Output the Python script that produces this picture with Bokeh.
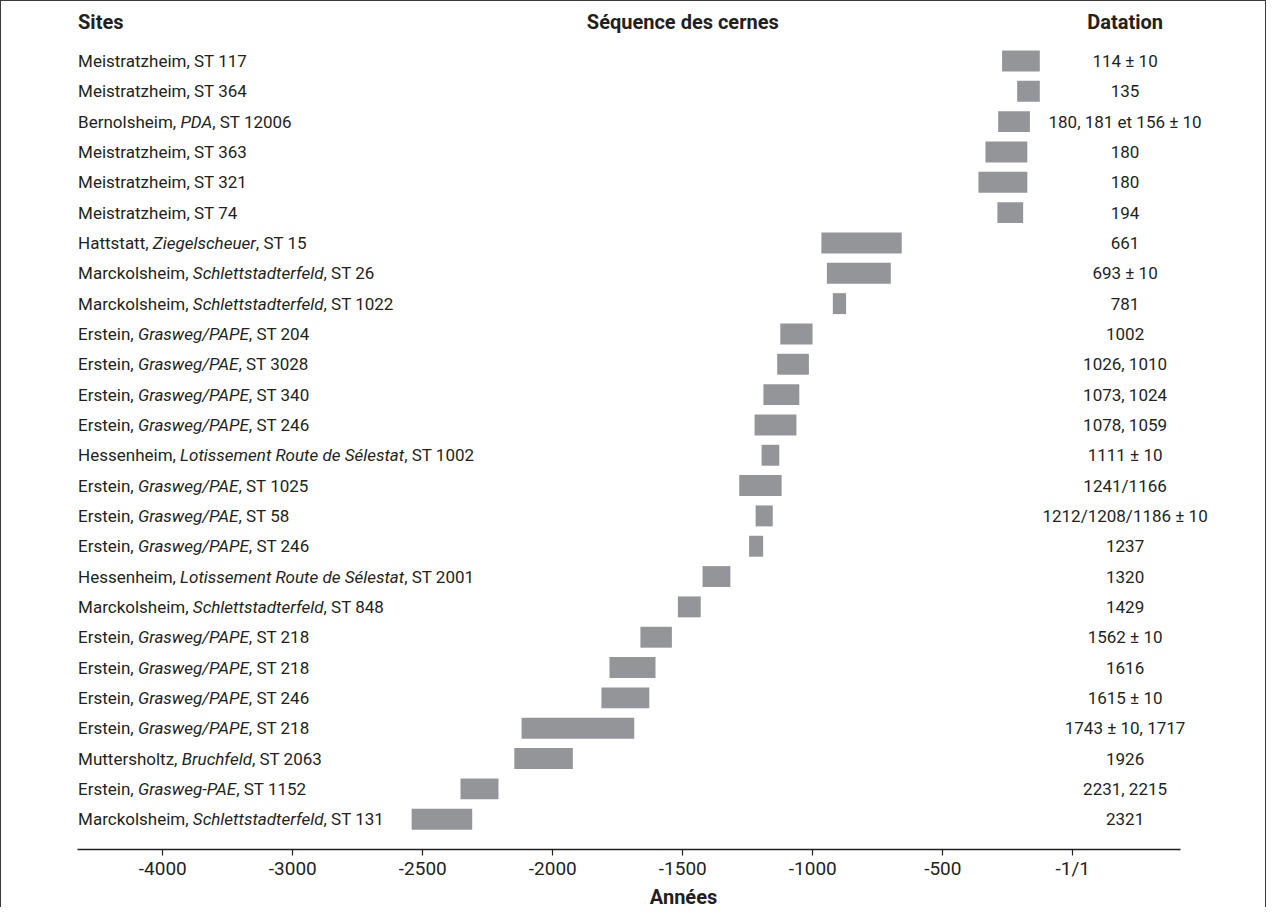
import os
import subprocess

from bokeh.plotting import figure
from bokeh.models import ColumnDataSource, Range1d, LinearAxis, FixedTicker, Title
from bokeh.core.properties import value
from bokeh.embed import file_html
from bokeh.resources import INLINE

# ---------------- data ----------------
site_place = [
    "Meistratzheim", "Meistratzheim", "Bernolsheim", "Meistratzheim", "Meistratzheim",
    "Meistratzheim", "Hattstatt", "Marckolsheim", "Marckolsheim", "Erstein",
    "Erstein", "Erstein", "Erstein", "Hessenheim", "Erstein",
    "Erstein", "Erstein", "Hessenheim", "Marckolsheim", "Erstein",
    "Erstein", "Erstein", "Erstein", "Muttersholtz", "Erstein",
    "Marckolsheim",
]
site_locality = [
    "", "", "PDA", "", "",
    "", "Ziegelscheuer", "Schlettstadterfeld", "Schlettstadterfeld", "Grasweg/PAPE",
    "Grasweg/PAE", "Grasweg/PAPE", "Grasweg/PAPE", "Lotissement Route de Sélestat", "Grasweg/PAE",
    "Grasweg/PAE", "Grasweg/PAPE", "Lotissement Route de Sélestat", "Schlettstadterfeld", "Grasweg/PAPE",
    "Grasweg/PAPE", "Grasweg/PAPE", "Grasweg/PAPE", "Bruchfeld", "Grasweg-PAE",
    "Schlettstadterfeld",
]
site_feature = [
    "ST 117", "ST 364", "ST 12006", "ST 363", "ST 321",
    "ST 74", "ST 15", "ST 26", "ST 1022", "ST 204",
    "ST 3028", "ST 340", "ST 246", "ST 1002", "ST 1025",
    "ST 58", "ST 246", "ST 2001", "ST 848", "ST 218",
    "ST 218", "ST 246", "ST 218", "ST 2063", "ST 1152",
    "ST 131",
]
# ring sequence extent (years, read on the axis)
ring_start = [
    -272, -214, -287, -336, -363,
    -290, -967, -946, -923, -1125,
    -1137, -1190, -1224, -1197, -1283,
    -1220, -1245, -1424, -1519, -1663,
    -1782, -1813, -2120, -2148, -2355,
    -2543,
]
ring_end = [
    -127, -127, -165, -175, -175,
    -191, -658, -700, -872, -1001,
    -1015, -1052, -1063, -1129, -1120,
    -1154, -1191, -1317, -1431, -1542,
    -1605, -1629, -1687, -1923, -2209,
    -2310,
]
datation = [
    "114 ± 10", "135", "180, 181 et 156 ± 10", "180", "180",
    "194", "661", "693 ± 10", "781", "1002",
    "1026, 1010", "1073, 1024", "1078, 1059", "1111 ± 10", "1241/1166",
    "1212/1208/1186 ± 10", "1237", "1320", "1429", "1562 ± 10",
    "1616", "1615 ± 10", "1743 ± 10, 1717", "1926", "2231, 2215",
    "2321",
]
tick_values = [-3500, -3000, -2500, -2000, -1500, -1000, -500, 0]
tick_labels = ["-4000", "-3000", "-2500", "-2000", "-1500", "-1000", "-500", "-1/1"]

headers = ["Sites", "Séquence des cernes", "Datation"]
x_title = "Années"

# ---------------- styling ----------------
FONT = "Roboto"
FS = 17
TXT = "#231f20"
BAR = "#939598"
XR = (-4120.4, 748.8)
W = 1266


def font_file(pattern, must):
    try:
        out = subprocess.run(["fc-match", "-f", "%{file}", pattern],
                             capture_output=True, text=True, timeout=10).stdout.strip()
        if out and os.path.exists(out) and must.lower() in os.path.basename(out).lower():
            return out
    except Exception:
        pass
    return None


def make_measure(pattern, must, size):
    path = font_file(pattern, must)
    try:
        from PIL import ImageFont
        if path:
            f = ImageFont.truetype(path, 100)
            return lambda s: f.getlength(s) * size / 100.0
    except Exception:
        pass
    return lambda s: len(s) * 0.55 * size


w_reg = make_measure("Roboto:style=Regular", "roboto", FS)
w_it = make_measure("Roboto:style=Italic", "italic", FS)
w_bold = make_measure("Roboto:style=Bold", "bold", 20)

n = len(site_place)
ys = [-i for i in range(n)]
p1, p2, p3, o2, o3 = [], [], [], [], []
for pl, loc, ft in zip(site_place, site_locality, site_feature):
    if loc:
        p1.append(pl + ",")
        p2.append(loc)
        p3.append(", " + ft)
        a = w_reg(pl + ", ")
        o2.append(a)
        o3.append(a + w_it(loc))
    else:
        p1.append(pl + ", " + ft)
        p2.append("")
        p3.append("")
        o2.append(0)
        o3.append(0)

src = ColumnDataSource(dict(y=ys, left=ring_start, right=ring_end, dat=datation,
                            p1=p1, p2=p2, p3=p3, o2=o2, o3=o3))

p = figure(width=W, height=907, output_backend="svg", toolbar_location=None,
           x_axis_type=None, y_axis_type=None,
           x_range=Range1d(*XR), y_range=Range1d(-26.0, 1.962),
           min_border_left=0, min_border_right=0, min_border_top=0, min_border_bottom=59)
p.outline_line_color = None
p.grid.visible = False
p.background_fill_color = "white"
p.border_fill_color = "white"
p.styles = {"border-left": "1px solid #3a3a3a", "border-top": "1px solid #3a3a3a",
            "border-right": "1px solid #3a3a3a"}

p.hbar(y="y", left="left", right="right", height=0.69, source=src,
       fill_color=BAR, line_color=None)

LX = -3826
common = dict(text_font=value(FONT), text_font_size=f"{FS}px", text_color=TXT,
              text_baseline="middle")
p.text(x=LX, y="y", text="p1", source=src, text_align="left", **common)
p.text(x=LX, y="y", text="p2", x_offset="o2", source=src, text_align="left",
       text_font_style="italic", **common)
p.text(x=LX, y="y", text="p3", x_offset="o3", source=src, text_align="left", **common)
p.text(x=201, y="y", text="dat", source=src, text_align="center", **common)

hsrc = ColumnDataSource(dict(x=[LX, -1500, 201], y=[1.30] * 3, t=headers,
                             a=["left", "center", "center"]))
p.text(x="x", y="y", text="t", text_align="a", source=hsrc, text_font=value(FONT),
       text_font_size="20px", text_font_style="bold", text_color=TXT,
       text_baseline="middle")

ax = LinearAxis(ticker=FixedTicker(ticks=tick_values), bounds=(-3827, 414))
ax.major_label_overrides = {v: l for v, l in zip(tick_values, tick_labels)}
ax.axis_line_color = TXT
ax.axis_line_width = 1.4
ax.major_tick_line_color = TXT
ax.major_tick_line_width = 1.2
ax.major_tick_out = 6
ax.major_tick_in = 0
ax.minor_tick_line_color = None
ax.major_label_standoff = 1
ax.major_label_text_font = FONT
ax.major_label_text_font_size = "19px"
ax.major_label_text_color = TXT
p.add_layout(ax, "below")

# x title placed under the axis, centred on year -1500
centre_px = (-1500 - XR[0]) / (XR[1] - XR[0]) * W
title = Title(text=x_title, align="left", offset=centre_px - w_bold(x_title) / 2,
              standoff=0, text_font=FONT, text_font_size="20px", text_font_style="bold",
              text_color=TXT)
p.add_layout(title, "below")

open("out.html", "w").write(file_html(p, INLINE))
